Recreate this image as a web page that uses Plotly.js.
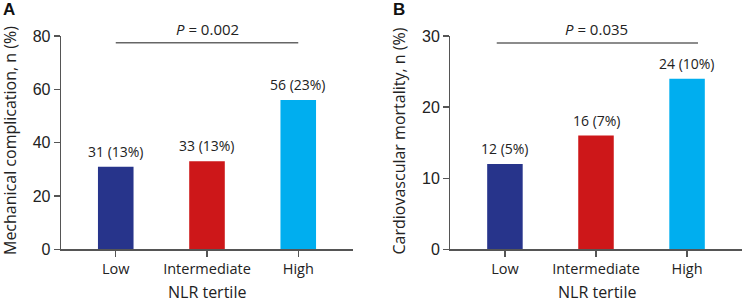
<!DOCTYPE html>
<html>
<head>
<meta charset="utf-8">
<script src="https://cdn.plot.ly/plotly-3.0.1.min.js"></script>
<style>html,body{margin:0;padding:0;background:#fff;}#chart{width:745px;height:302px;}</style>
</head>
<body>
<div id="chart"></div>
<script>
// ---- data ----
const categories = ["Low", "Intermediate", "High"];
const mechValues = [31, 33, 56];
const mechPercent = ["13%", "13%", "23%"];
const cvValues = [12, 16, 24];
const cvPercent = ["5%", "7%", "10%"];
const barColors = ["#27348B", "#CD1719", "#00AEEF"];
const pValues = ["0.002", "0.035"];
const pLineLevels = [77.5, 29];          // y-level of the P bracket (data units)
const pLineSpanA = [0, 2];               // category index span
const pLineSpanB = [-0.09, 2.12];
const yTicksA = [0, 20, 40, 60, 80];
const yTicksB = [0, 10, 20, 30];
const panelLabels = ["A", "B"];
const yTitles = ["Mechanical complication, n (%)", "Cardiovascular mortality, n (%)"];
const xTitle = "NLR tertile";

// ---- layout helpers ----
const W = 745, H = 302;
const px = v => v / W;
const py = v => 1 - v / H;
const yDom = [py(249.3), py(36)];
const labelFont = "Open Sans, Liberation Sans, sans-serif";
const numFont = "Liberation Sans, Arial, sans-serif";
const txtColor = "#222";
const axColor = "#555";

function labels(vals, pcts) { return vals.map((v, i) => v + " (" + pcts[i] + ")"); }

const traces = [
  {type: "bar", x: categories, y: mechValues, marker: {color: barColors}, width: 0.39,
   xaxis: "x", yaxis: "y", hoverinfo: "none"},
  {type: "bar", x: categories, y: cvValues, marker: {color: barColors}, width: 0.39,
   xaxis: "x2", yaxis: "y2", hoverinfo: "none"}
];

function xAxis(dom, anchor) {
  return {domain: dom, anchor: anchor, type: "category", range: [-0.6, 2.6],
    showline: true, linecolor: axColor, linewidth: 1.3, ticks: "outside", ticklen: 6,
    tickcolor: axColor, tickwidth: 1.3, showgrid: false, zeroline: false,
    tickfont: {family: labelFont, size: 14.5, color: txtColor}, fixedrange: true};
}
function yAxis(dom, anchor, range, ticks) {
  return {domain: dom, anchor: anchor, range: range, tickvals: ticks,
    showline: true, linecolor: axColor, linewidth: 1.3, ticks: "outside", ticklen: 6,
    tickcolor: axColor, tickwidth: 1.3, showgrid: false, zeroline: false,
    tickfont: {family: numFont, size: 16, color: txtColor}, fixedrange: true};
}

const annotations = [];
function addBarLabels(vals, pcts, xr, yr) {
  labels(vals, pcts).forEach((t, i) => annotations.push({
    x: categories[i], y: vals[i], xref: xr, yref: yr, text: t, showarrow: false,
    yanchor: "bottom", yshift: 4, font: {family: labelFont, size: 14, color: txtColor}}));
}
addBarLabels(mechValues, mechPercent, "x", "y");
addBarLabels(cvValues, cvPercent, "x2", "y2");

[["x", "y"], ["x2", "y2"]].forEach((r, k) => {
  annotations.push({x: 1, y: pLineLevels[k], xref: r[0], yref: r[1],
    text: "<i>P</i> = " + pValues[k], showarrow: false, yanchor: "bottom", yshift: 2,
    font: {family: labelFont, size: 15, color: txtColor}});
});

const xTitleCenters = [207, 596.7];
const yTitleX = [10, 398.5];
const panelLabelX = [9, 399];
for (let k = 0; k < 2; k++) {
  annotations.push({x: px(xTitleCenters[k]), y: 0, xref: "paper", yref: "paper",
    text: xTitle, showarrow: false, xanchor: "center", yanchor: "bottom", yshift: -3,
    font: {family: labelFont, size: 16, color: txtColor}});
  annotations.push({x: px(yTitleX[k]), y: py(141), xref: "paper", yref: "paper",
    text: yTitles[k], showarrow: false, textangle: -90, xanchor: "center", yanchor: "middle",
    font: {family: labelFont, size: 16, color: txtColor}});
  annotations.push({x: px(panelLabelX[k]), y: py(9), xref: "paper", yref: "paper",
    text: "<b>" + panelLabels[k] + "</b>", showarrow: false, xanchor: "center", yanchor: "middle",
    font: {family: numFont, size: 17, color: "#111"}});
}

const shapes = [
  {type: "line", xref: "x", yref: "y", x0: pLineSpanA[0], x1: pLineSpanA[1],
   y0: pLineLevels[0], y1: pLineLevels[0], line: {color: "#666", width: 1.5}},
  {type: "line", xref: "x2", yref: "y2", x0: pLineSpanB[0], x1: pLineSpanB[1],
   y0: pLineLevels[1], y1: pLineLevels[1], line: {color: "#666", width: 1.5}}
];

const layout = {
  width: W, height: H, margin: {l: 0, r: 0, t: 0, b: 0},
  paper_bgcolor: "#fff", plot_bgcolor: "#fff", showlegend: false,
  xaxis: xAxis([px(61), px(353)], "y"),
  yaxis: yAxis(yDom, "x", [0, 80], yTicksA),
  xaxis2: xAxis([px(450.3), px(741.7)], "y2"),
  yaxis2: yAxis(yDom, "x2", [0, 30], yTicksB),
  annotations: annotations, shapes: shapes
};

Plotly.newPlot("chart", traces, layout, {staticPlot: true});
</script>
</body>
</html>
